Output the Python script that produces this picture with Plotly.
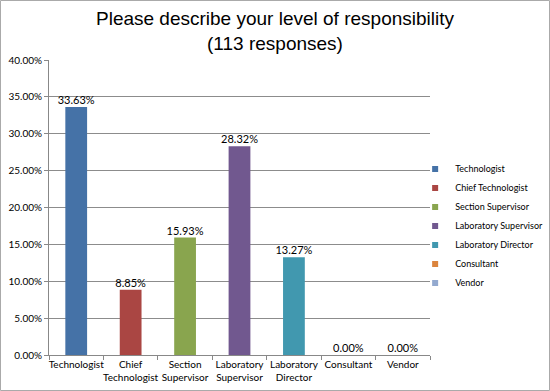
import plotly.graph_objects as go

categories = ["Technologist", "Chief Technologist", "Section Supervisor",
              "Laboratory Supervisor", "Laboratory Director", "Consultant", "Vendor"]
tick_labels = ["Technologist", "Chief<br>Technologist", "Section<br>Supervisor",
               "Laboratory<br>Supervisor", "Laboratory<br>Director", "Consultant", "Vendor"]
values = [33.63, 8.85, 15.93, 28.32, 13.27, 0.00, 0.00]
colors = ["#4572A7", "#AA4643", "#89A54E", "#71588F", "#4198AF", "#DB843D", "#93A9CF"]

fig = go.Figure()
for cat, val, col in zip(categories, values, colors):
    fig.add_trace(go.Bar(
        x=[cat], y=[val], name=cat, width=0.4,
        marker=dict(color=col, line=dict(width=0)),
        hoverinfo="skip", showlegend=False,
    ))
# legend entries with small square swatches
for cat, col in zip(categories, colors):
    fig.add_trace(go.Scatter(
        x=[None], y=[None], mode="markers", name=cat,
        marker=dict(symbol="square", size=6, color=col),
        hoverinfo="skip",
    ))

fig.add_trace(go.Scatter(
    x=categories, y=values, mode="text",
    text=[f"{v:.2f}%" for v in values],
    textposition="top center",
    textfont=dict(family="Lato, Open Sans, sans-serif", size=11, color="#000"),
    showlegend=False, hoverinfo="skip", cliponaxis=False,
))

fig.update_layout(
    width=550, height=391,
    margin=dict(l=49, r=120, t=60, b=36, autoexpand=False),
    paper_bgcolor="white", plot_bgcolor="white",
    barmode="overlay",
    title=dict(
        text="Please describe your level of responsibility<br>(113 responses)",
        x=0.5, xref="container", xanchor="center",
        y=1 - 25 / 391, yref="container", yanchor="middle",
        font=dict(family="Liberation Sans, Arial, sans-serif", size=19, color="#000"),
    ),
    font=dict(family="Lato, Open Sans, sans-serif", size=10, color="#000"),
    legend=dict(
        x=0.961, xanchor="left", y=0.68, yanchor="top",
        font=dict(size=9, family="Lato, Open Sans, sans-serif", color="#000"),
        tracegroupgap=0, itemwidth=30, bgcolor="rgba(0,0,0,0)",
    ),
    showlegend=True,
)

fig.update_xaxes(
    type="category", categoryorder="array", categoryarray=categories,
    tickvals=categories, ticktext=tick_labels, tickangle=0, automargin=False,
    showline=True, linecolor="#888", linewidth=1, range=[-0.5, 6.5],
    ticks="outside", tickson="boundaries", ticklen=4, tickcolor="#888",
    showgrid=False, tickfont=dict(size=10),
)
fig.update_yaxes(
    range=[0, 40], dtick=5, tickformat=".2f", ticksuffix="%", automargin=False,
    showline=True, linecolor="#888", linewidth=1,
    ticks="outside", ticklen=4, tickcolor="#888",
    showgrid=True, gridcolor="#8c8c8c", gridwidth=1,
    zeroline=False, tickfont=dict(size=10),
)

fig.add_shape(type="rect", xref="paper", yref="paper",
              x0=-48.5/381, x1=(550-49.5)/381, y0=-35.5/295, y1=(391-36.5)/295,
              line=dict(color="#aaa", width=1), layer="below")

fig.write_html("out.html", config={"displayModeBar": False},
               post_script="document.body.style.margin='0';document.body.style.overflow='hidden';")
